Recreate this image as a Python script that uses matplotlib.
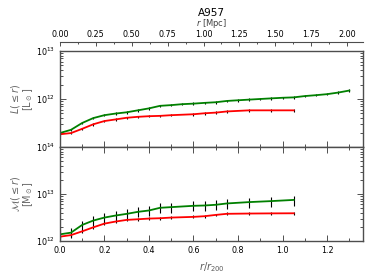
import numpy as np
import matplotlib
matplotlib.use("Agg")
import matplotlib.pyplot as plt
from matplotlib.ticker import MultipleLocator, LogLocator, NullFormatter

title = "A957"
r200_mpc = 1.55

# top panel: luminance
x_lum_g = [0.0, 0.05, 0.1, 0.15, 0.2, 0.25, 0.3, 0.35, 0.4, 0.45, 0.5, 0.55, 0.6, 0.65,
           0.7, 0.75, 0.8, 0.85, 0.9, 0.95, 1.0, 1.05, 1.1, 1.15, 1.2, 1.25, 1.3]
lum_g = [1.95e11, 2.28e11, 3.16e11, 4.0e11, 4.6e11, 4.97e11, 5.28e11, 5.8e11, 6.37e11,
         7.2e11, 7.45e11, 7.8e11, 8.0e11, 8.3e11, 8.55e11, 9.1e11, 9.4e11, 9.7e11, 1.0e12,
         1.03e12, 1.06e12, 1.08e12, 1.15e12, 1.2e12, 1.26e12, 1.36e12, 1.5e12]
x_red = [0.0, 0.05, 0.1, 0.15, 0.2, 0.25, 0.3, 0.35, 0.4, 0.45, 0.5, 0.6, 0.65, 0.7,
         0.75, 0.85, 0.95, 1.05]
lum_r = [1.84e11, 1.95e11, 2.39e11, 2.97e11, 3.47e11, 3.75e11, 4.06e11, 4.25e11, 4.38e11,
         4.45e11, 4.6e11, 4.81e11, 5.04e11, 5.2e11, 5.5e11, 5.8e11, 5.8e11, 5.8e11]

# bottom panel: mass
x_mass = x_red
mass_g = [1.39e12, 1.51e12, 2.2e12, 2.73e12, 3.16e12, 3.49e12, 3.79e12, 4.18e12, 4.47e12,
          5.1e12, 5.27e12, 5.62e12, 5.71e12, 5.91e12, 6.31e12, 6.74e12, 7.08e12, 7.5e12]
mass_r = [1.24e12, 1.34e12, 1.61e12, 1.96e12, 2.35e12, 2.6e12, 2.82e12, 2.91e12, 3.01e12,
          3.06e12, 3.16e12, 3.27e12, 3.38e12, 3.6e12, 3.8e12, 3.85e12, 3.88e12, 3.9e12]

lum_g_err = [0.06 * v for v in lum_g]
lum_r_err = [0.06 * v for v in lum_r]
mass_g_err = [0.24 * v for v in mass_g]
mass_r_err = [0.07 * v for v in mass_r]

plt.rcParams['font.family'] = ['DejaVu Sans']
plt.rcParams['mathtext.fontset'] = 'dejavusans'

fig = plt.figure(figsize=(3.74, 2.8), dpi=100)
L, R = 0.160, 0.971
ax1 = fig.add_axes([L, 0.475, R - L, 0.818 - 0.475])
ax2 = fig.add_axes([L, 0.139, R - L, 0.475 - 0.139], sharex=ax1)

spc = '0.3'
for ax in (ax1, ax2):
    ax.set_yscale('log')
    for s in ax.spines.values():
        s.set_color(spc)
        s.set_linewidth(1.0)
    ax.tick_params(which='both', direction='in', top=True, right=True, labelsize=5.8,
                   color='0.2', width=0.6)
    ax.tick_params(which='major', length=4)
    ax.tick_params(which='minor', length=2)
    ax.yaxis.set_major_locator(LogLocator(base=10))
    ax.yaxis.set_minor_locator(LogLocator(base=10, subs=np.arange(2, 10)))
    ax.yaxis.set_minor_formatter(NullFormatter())
    ax.xaxis.set_major_locator(MultipleLocator(0.2))
    ax.xaxis.set_minor_locator(MultipleLocator(0.1))

kw = dict(lw=1.3, ecolor='black', elinewidth=0.8, capsize=0)
ax1.errorbar(x_lum_g, lum_g, yerr=lum_g_err, color='green', **kw)
ax1.errorbar(x_red, lum_r, yerr=lum_r_err, color='red', **kw)
ax2.errorbar(x_mass, mass_g, yerr=mass_g_err, color='green', **kw)
ax2.errorbar(x_mass, mass_r, yerr=mass_r_err, color='red', **kw)

ax1.set_xlim(0, 1.362)
ax1.set_ylim(1e11, 1e13)
ax2.set_ylim(1e12, 1e14)
ax1.tick_params(labelbottom=False)
ax1.set_yticks([1e12, 1e13])
ax2.set_yticks([1e12, 1e13, 1e14])

ax1.set_ylabel(r'$L(\leq r)$' + '\n' + r'[L$_\odot$]', fontsize=7, color='0.4',
               linespacing=0.85, labelpad=1)
ax2.set_ylabel(r'$\mathcal{M}(\leq r)$' + '\n' + r'[M$_\odot$]', fontsize=7, color='0.4',
               linespacing=0.85, labelpad=1)
ax2.set_xlabel(r'$r/r_{200}$', fontsize=7, color='0.35', labelpad=4)

# top Mpc axis
axt = ax1.twiny()
axt.set_xlim(0, 1.362 * r200_mpc)
for k in ('bottom', 'left', 'right'):
    axt.spines[k].set_visible(False)
axt.spines['top'].set_position(('outward', 6.5))
axt.spines['top'].set_color(spc)
axt.spines['top'].set_linewidth(0.8)
axt.xaxis.set_major_locator(MultipleLocator(0.25))
axt.xaxis.set_minor_locator(MultipleLocator(0.125))
axt.tick_params(which='both', direction='in', labelsize=5.8, color='0.2', width=0.6, pad=2)
axt.tick_params(which='major', length=3)
axt.tick_params(which='minor', length=1.5)
axt.xaxis.set_major_formatter(matplotlib.ticker.FormatStrFormatter('%.2f'))

cx = (60 + 363) / 2 / 374
fig.text(cx, 1 - 23 / 280, r'$r$ [Mpc]', fontsize=6, color='0.25', ha='center', va='center')
fig.text(cx, 1 - 13 / 280, title, fontsize=7.5, ha='center', va='center')

fig.savefig('out.png', dpi=100)
